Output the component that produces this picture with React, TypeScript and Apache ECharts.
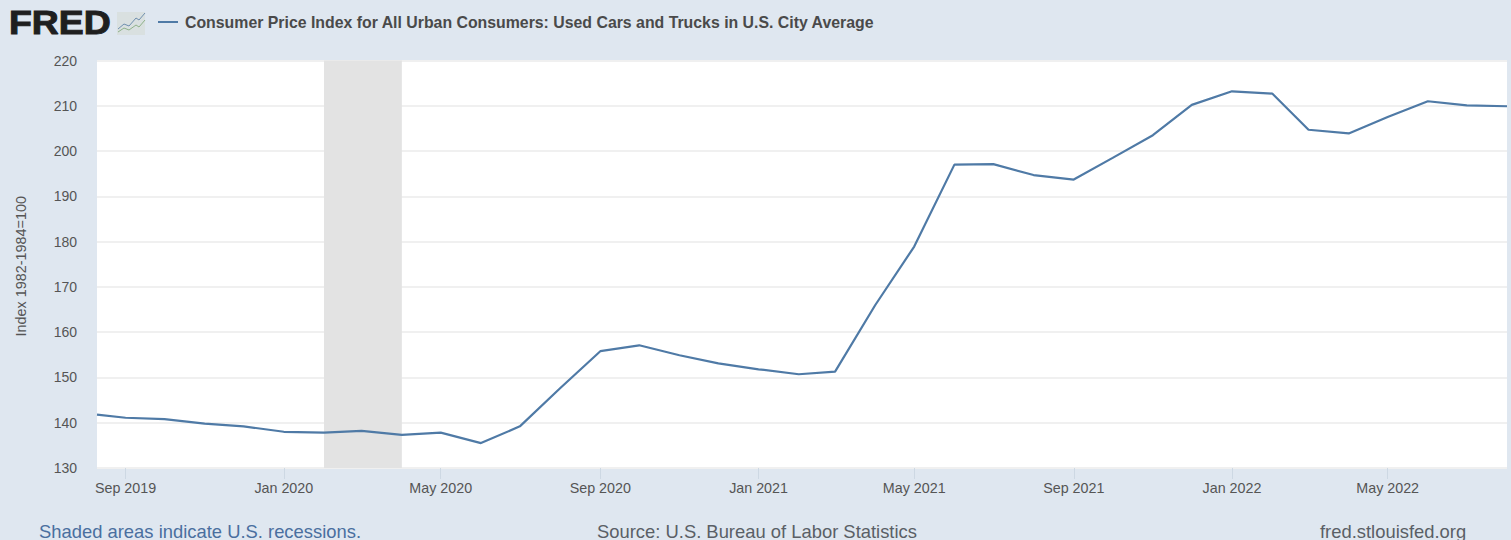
import React, { useEffect, useRef } from "react";
import * as echarts from "echarts";

const months = [
  "2019-08-10","2019-09-01","2019-10-01","2019-11-01","2019-12-01",
  "2020-01-01","2020-02-01","2020-03-01","2020-04-01","2020-05-01","2020-06-01","2020-07-01","2020-08-01","2020-09-01","2020-10-01","2020-11-01","2020-12-01",
  "2021-01-01","2021-02-01","2021-03-01","2021-04-01","2021-05-01","2021-06-01","2021-07-01","2021-08-01","2021-09-01","2021-10-01","2021-11-01","2021-12-01",
  "2022-01-01","2022-02-01","2022-03-01","2022-04-01","2022-05-01","2022-06-01","2022-07-01","2022-08-01",
];
const values = [
  141.8,141.1,140.8,139.8,139.2,
  138.0,137.8,138.2,137.3,137.8,135.5,139.2,147.6,155.8,157.1,154.9,153.1,
  151.8,150.7,151.3,166.0,178.9,197.0,197.1,194.7,193.7,198.5,203.5,210.2,
  213.2,212.7,204.7,203.9,207.5,211.0,210.1,209.9,
];
const tickDates = ["2019-09-01","2020-01-01","2020-05-01","2020-09-01","2021-01-01","2021-05-01","2021-09-01","2022-01-01","2022-05-01"];
const tickLabels = ["Sep 2019","Jan 2020","May 2020","Sep 2020","Jan 2021","May 2021","Sep 2021","Jan 2022","May 2022"];
const recession = ["2020-02-01","2020-04-01"];
const seriesName = "Consumer Price Index for All Urban Consumers: Used Cars and Trucks in U.S. City Average";
const axisStart = "2019-08-10";
const axisEnd = "2022-08-01";

const t = (s: string) => new Date(s + "T00:00:00Z").getTime();
const font = '"Liberation Sans", Arial, sans-serif';

export default function App() {
  const ref = useRef<HTMLDivElement>(null);
  useEffect(() => {
    document.body.style.margin = "0";
    const chart = echarts.init(ref.current!, null, { renderer: "svg" });
    const tickTimes = tickDates.map(t);
    chart.setOption({
      animation: false,
      backgroundColor: "#dfe7f0",
      textStyle: { fontFamily: font },
      grid: { left: 97, right: 4, top: 60.5, bottom: 72, show: true, backgroundColor: "#fff", borderWidth: 0 },
      legend: {
        left: 153, top: 9, icon: "rect", itemWidth: 20, itemHeight: 2, itemGap: 6,
        textStyle: { fontFamily: font, fontSize: 15.85, fontWeight: "bold", color: "#4a4a4a", padding: [0, 0, 0, 2] },
        data: [seriesName],
      },
      xAxis: {
        type: "value", min: t(axisStart), max: t(axisEnd),
        axisLine: { show: false },
        splitLine: { show: false },
        axisTick: { show: true, length: 11, customValues: tickTimes, lineStyle: { color: "#cdd8e3", width: 1 } },
        axisLabel: {
          customValues: tickTimes, margin: 13, fontSize: 14.3, color: "#555", fontFamily: font, hideOverlap: false,
          formatter: (v: number) => tickLabels[tickTimes.indexOf(v)] ?? "",
        },
      },
      yAxis: {
        type: "value", min: 130, max: 220, interval: 10,
        name: "Index 1982-1984=100", nameLocation: "middle", nameGap: 69, nameRotate: 90,
        nameTextStyle: { fontSize: 14.4, color: "#555", fontFamily: font, padding: [0, 4, 0, 0] },
        axisLine: { show: false }, axisTick: { show: false },
        axisLabel: { margin: 20, fontSize: 14, color: "#555", fontFamily: font },
        splitLine: { lineStyle: { color: "#f0f0f0", width: 2 } },
      },
      series: [{
        name: seriesName, type: "line", showSymbol: false, symbol: "none", clip: true,
        lineStyle: { color: "#4f7aa6", width: 2.2 }, itemStyle: { color: "#4f7aa6" },
        data: months.map((m, i) => [t(m), values[i]]),
        markArea: {
          silent: true, itemStyle: { color: "#e3e3e3", opacity: 1 }, label: { show: false },
          data: [[{ xAxis: t(recession[0]) }, { xAxis: t(recession[1]) }]],
        },
      }],
      graphic: [
        { type: "text", x: 9, y: 6, scaleX: 1.1, style: { text: "FRED", fontFamily: font, fontWeight: 900, fontSize: 34, fill: "#1f1f1f", stroke: "#1f1f1f", lineWidth: 1 } },
        { type: "rect", shape: { x: 117, y: 12, width: 28, height: 23 }, style: { fill: "#d9e0e0" } },
        { type: "polyline", shape: { points: [[118, 29], [124, 24], [129, 26], [136, 18], [139, 20], [145, 13]] }, style: { stroke: "#6f8faf", fill: "none", lineWidth: 1 } },
        { type: "polyline", shape: { points: [[118, 32], [124, 28], [129, 30], [136, 25], [139, 27], [145, 20]] }, style: { stroke: "#8fb28a", fill: "none", lineWidth: 1 } },
        { type: "text", x: 39, y: 522, style: { text: "Shaded areas indicate U.S. recessions.", fontFamily: font, fontSize: 18.4, fill: "#4a6f9f" } },
        { type: "text", x: 597, y: 522, style: { text: "Source: U.S. Bureau of Labor Statistics", fontFamily: font, fontSize: 18.4, fill: "#5a5f66" } },
        { type: "text", x: 1320, y: 522, style: { text: "fred.stlouisfed.org", fontFamily: font, fontSize: 18.4, fill: "#5a5f66" } },
      ],
    });
    return () => chart.dispose();
  }, []);
  return <div ref={ref} style={{ width: 1511, height: 540 }} />;
}
